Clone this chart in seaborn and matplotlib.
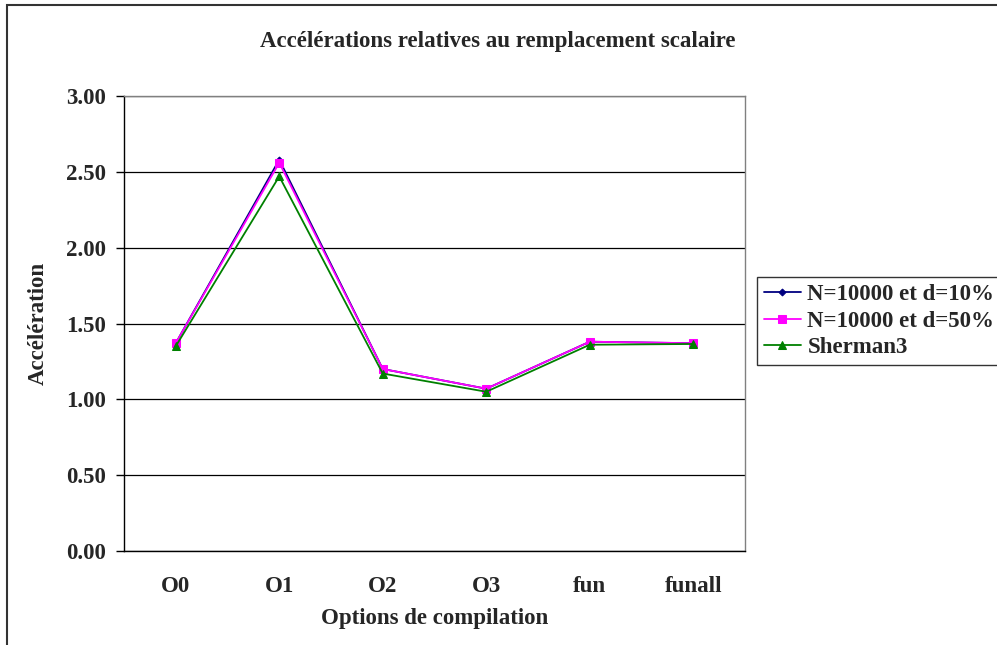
import numpy as np
import pandas as pd
import seaborn as sns
import matplotlib
matplotlib.use("Agg")
import matplotlib.pyplot as plt
from matplotlib.patches import Rectangle

# données
options = ["O0", "O1", "O2", "O3", "fun", "funall"]
n10 = [1.37, 2.58, 1.20, 1.07, 1.38, 1.37]
n50 = [1.37, 2.56, 1.20, 1.07, 1.38, 1.37]
sherman3 = [1.35, 2.47, 1.17, 1.05, 1.36, 1.365]

series_names = ["N=10000 et d=10%", "N=10000 et d=50%", "Sherman3"]
series_vals = [n10, n50, sherman3]
colors = ["#000080", "#FF00FF", "#008000"]
markers = ["D", "s", "^"]
msizes = [3.5, 5.5, 5.5]

sns.set_theme(style="white")
plt.rcParams['font.family'] = ['Liberation Serif', 'DejaVu Serif']
plt.rcParams['font.weight'] = 'bold'

fs = 16.5

fig = plt.figure(figsize=(9.97, 6.45), dpi=100)
ax = fig.add_axes([124 / 997, 1 - 551 / 645, (745 - 124) / 997, (551 - 96) / 645])

x = np.arange(len(options))
for name, vals, c, m, ms in zip(series_names, series_vals, colors, markers, msizes):
    df = pd.DataFrame({"x": x, "y": vals})
    sns.lineplot(data=df, x="x", y="y", ax=ax, color=c, marker=m, markersize=ms,
                 markeredgecolor=c, linewidth=1.3, label=name, legend=False)

ax.set_xlim(-0.5, len(options) - 0.5)
ax.set_ylim(0, 3)
ax.set_yticks(np.arange(0, 3.01, 0.5))
ax.set_yticklabels([f"{v:.2f}" for v in np.arange(0, 3.01, 0.5)], fontsize=fs, fontweight='bold')
ax.set_xticks(x)
ax.set_xticklabels(options, fontsize=fs, fontweight='bold')
ax.set_xticks(np.arange(-0.5, len(options), 1), minor=True)
ax.tick_params(axis='x', which='major', length=0, pad=18)
ax.tick_params(axis='x', which='minor', length=6, width=1, color='black', direction='out')
ax.tick_params(axis='y', which='major', length=6, width=1, color='black', direction='out', pad=7, left=True)
ax.grid(axis='y', color='black', linewidth=0.9)
ax.set_axisbelow(True)
for s in ax.spines.values():
    s.set_color('#808080')
    s.set_linewidth(1)
ax.spines['left'].set_color('black')
ax.spines['bottom'].set_color('black')

ax.set_xlabel("Options de compilation", fontsize=fs, fontweight='bold', labelpad=8)
ax.set_ylabel("Accélération", fontsize=fs, fontweight='bold', labelpad=12)
fig.text(498 / 997, 1 - 42 / 645, "Accélérations relatives au remplacement scalaire",
         ha='center', va='center', fontsize=fs, fontweight='bold')

handles, labels = ax.get_legend_handles_labels()
leg = fig.legend(handles, labels, loc='upper left', bbox_to_anchor=(757 / 997, 1 - 277 / 645),
                 frameon=True, fancybox=False, borderaxespad=0, prop={'size': fs, 'weight': 'bold'},
                 handlelength=1.6, handletextpad=0.3, labelspacing=0.25, borderpad=0.3)
leg.get_frame().set_edgecolor('black')
leg.get_frame().set_linewidth(1)

# cadre extérieur du graphique
fig.patches.append(Rectangle((7 / 997, -0.05), 1.1, 1 - 5 / 645 + 0.05, transform=fig.transFigure,
                             fill=False, edgecolor='#333333', linewidth=1.5))

fig.savefig("out.png", dpi=100)
